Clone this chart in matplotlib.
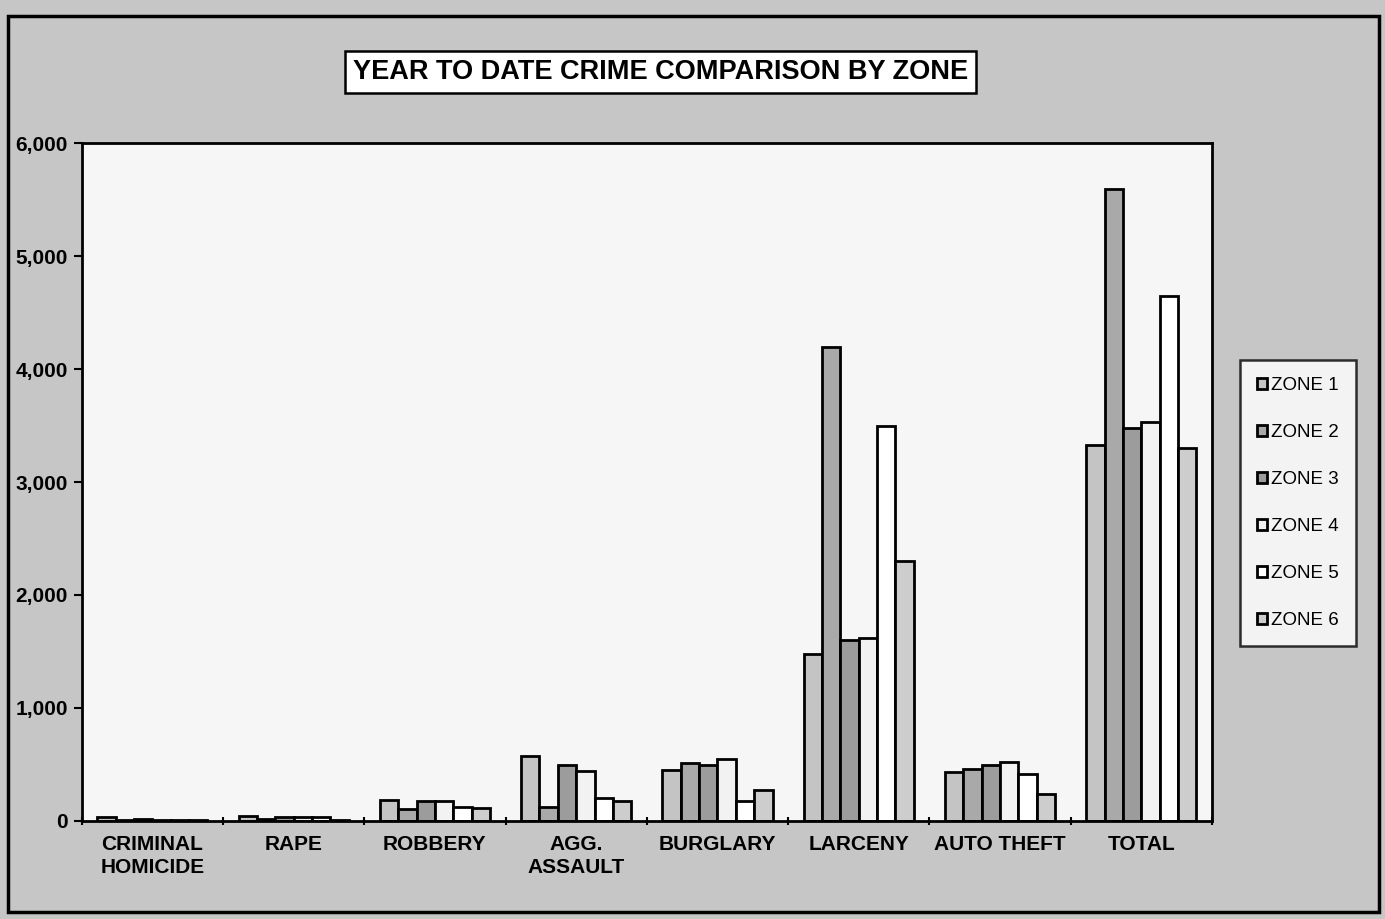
import numpy as np
import matplotlib.pyplot as plt
from matplotlib.patches import Rectangle

# Dati
categorie = ['CRIMINAL\nHOMICIDE', 'RAPE', 'ROBBERY', 'AGG.\nASSAULT',
             'BURGLARY', 'LARCENY', 'AUTO THEFT', 'TOTAL']
zone = ['ZONE 1', 'ZONE 2', 'ZONE 3', 'ZONE 4', 'ZONE 5', 'ZONE 6']

zona1 = [30, 40, 180, 570, 450, 1480, 430, 3330]
zona2 = [10, 15, 100, 120, 510, 4200, 460, 5600]
zona3 = [15, 30, 170, 490, 490, 1600, 490, 3480]
zona4 = [10, 30, 170, 440, 550, 1620, 520, 3530]
zona5 = [10, 35, 120, 200, 170, 3500, 410, 4650]
zona6 = [5, 10, 110, 170, 270, 2300, 240, 3300]
valori = [zona1, zona2, zona3, zona4, zona5, zona6]

colori = ['#c4c4c4', '#a9a9a9', '#9c9c9c', '#f2f2f2', '#ffffff', '#cdcdcd']

plt.rcParams['font.family'] = ['Liberation Sans', 'DejaVu Sans']

fig = plt.figure(figsize=(13.85, 9.19), dpi=100)
fig.patch.set_facecolor('#c6c6c6')
ax = fig.add_axes([0.059, 0.107, 0.816, 0.737])
ax.set_facecolor('#f6f6f6')

n = len(categorie)
w = 0.13
x = np.arange(n)
for k in range(6):
    ax.bar(x - 2.5*w + k*w, valori[k], width=w, color=colori[k],
           edgecolor='black', linewidth=2, label=zone[k])

ax.set_xlim(-0.5, n - 0.5)
ax.set_ylim(0, 6000)
ax.set_yticks(range(0, 6001, 1000))
ax.set_yticklabels(['{:,}'.format(v) for v in range(0, 6001, 1000)],
                   fontsize=15, fontweight='bold')
ax.set_xticks(x)
ax.set_xticklabels(categorie, fontsize=15, fontweight='bold', linespacing=1.3)
ax.tick_params(axis='x', length=0, pad=10)
ax.set_xticks(np.arange(-0.5, n), minor=True)
ax.tick_params(axis='x', which='minor', length=6, direction='inout', width=1.5)
ax.tick_params(axis='y', length=6, width=1.5, pad=4)
for s in ax.spines.values():
    s.set_linewidth(2)

leg = ax.legend(loc='center left', bbox_to_anchor=(1.025, 0.469), fontsize=13.5,
                frameon=True, fancybox=False, edgecolor='black',
                handlelength=0.55, handleheight=0.55, handletextpad=0.2,
                labelspacing=1.6, borderpad=0.9, borderaxespad=0)
leg.get_frame().set_linewidth(1.8)

fig.text(0.477, 0.922, 'YEAR TO DATE CRIME COMPARISON BY ZONE', fontsize=19.5,
         fontweight='bold', ha='center', va='center',
         bbox=dict(boxstyle='square,pad=0.3', facecolor='white',
                   edgecolor='black', linewidth=1.8))

# cornice esterna
fig.patches.append(Rectangle((0.006, 0.008), 0.99, 0.975, transform=fig.transFigure,
                             fill=False, edgecolor='black', linewidth=2.5))

fig.savefig('out.png', dpi=100, facecolor=fig.get_facecolor())
